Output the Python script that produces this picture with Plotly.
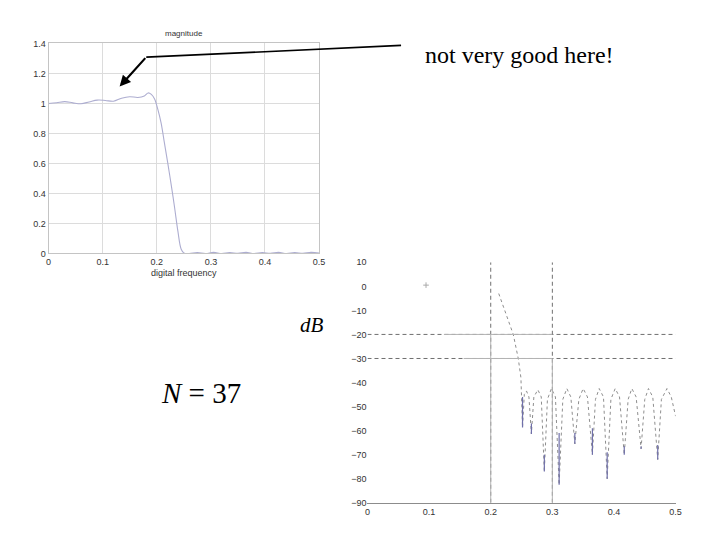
import plotly.graph_objects as go

# magnitude response (linear)
mag_x = [0.0, 0.015, 0.03, 0.045, 0.06, 0.075, 0.09, 0.105, 0.12, 0.135, 0.15, 0.165,
         0.177, 0.184, 0.19, 0.196, 0.202, 0.208, 0.214, 0.22, 0.227, 0.233, 0.239,
         0.245, 0.25, 0.26, 0.275, 0.29, 0.305, 0.32, 0.335, 0.35, 0.365, 0.38, 0.395,
         0.41, 0.425, 0.44, 0.455, 0.47, 0.485, 0.5]
mag_y = [1.0, 1.005, 1.012, 1.004, 0.998, 1.01, 1.022, 1.02, 1.015, 1.035, 1.045, 1.04,
         1.05, 1.07, 1.06, 1.03, 0.96, 0.87, 0.74, 0.61, 0.45, 0.305, 0.15,
         0.03, 0.004, 0.0, 0.006, 0.0, 0.007, 0.0, 0.006, 0.001, 0.007, 0.0, 0.006,
         0.001, 0.007, 0.0, 0.006, 0.001, 0.007, 0.003]

# dB response
db_x = [0.213, 0.220, 0.228, 0.2366, 0.2447, 0.249, 0.2516, 0.2545, 0.258, 0.262, 0.266,
        0.270, 0.2765, 0.282, 0.287, 0.292, 0.2985, 0.305, 0.311, 0.317, 0.3235, 0.330,
        0.3365, 0.343, 0.350, 0.357, 0.365, 0.370, 0.376, 0.383, 0.389, 0.395, 0.402,
        0.409, 0.4167, 0.423, 0.429, 0.436, 0.444, 0.450, 0.456, 0.463, 0.471, 0.477,
        0.486, 0.493, 0.500]
db_y = [-3, -8, -13.5, -20, -30, -38, -58.7, -45, -43.5, -46, -61.4,
        -46, -43, -46, -77, -47, -42.5, -46, -82.5, -47, -42.5, -46,
        -65.5, -47, -42.5, -46, -70, -47, -42.5, -46, -80, -47, -42.5,
        -46, -70, -47, -42.5, -46, -67.5, -47, -42.5, -46, -72, -47,
        -42.5, -46, -54]

# solid segments at the stopband nulls
null_x = [0.2516, 0.266, 0.287, 0.311, 0.3365, 0.365, 0.389, 0.4167, 0.444, 0.471]
null_top = [-46, -57, -70, -61, -61, -59, -69, -66.5, -66.6, -66]
null_bot = [-58.7, -61.4, -77, -82.5, -65.5, -70, -80, -70, -67.5, -72]

x_ticks = [0, 0.1, 0.2, 0.3, 0.4, 0.5]
mag_ticks = [0, 0.2, 0.4, 0.6, 0.8, 1, 1.2, 1.4]
db_ticks = [10, 0, -10, -20, -30, -40, -50, -60, -70, -80, -90]

W, H = 720, 540
OFF = 8  # page body margin


def px(x):
    return (x - OFF) / W


def py(y):
    return 1 - (y - OFF) / H


fig = go.Figure()

fig.add_trace(go.Scatter(x=mag_x, y=mag_y, mode="lines", line=dict(color="#adadd0", width=1.1),
                         line_shape="spline", xaxis="x", yaxis="y", showlegend=False))

fig.add_trace(go.Scatter(x=db_x, y=db_y, mode="lines", line=dict(color="#8e8e8e", width=1, dash="dot"),
                         xaxis="x2", yaxis="y2", showlegend=False))

seg_x, seg_y = [], []
for xx, t, b in zip(null_x, null_top, null_bot):
    seg_x += [xx, xx, None]
    seg_y += [t, b, None]
fig.add_trace(go.Scatter(x=seg_x, y=seg_y, mode="lines", line=dict(color="#7070aa", width=1.2),
                         xaxis="x2", yaxis="y2", showlegend=False))

# stray mark near the top left of the dB panel
fig.add_trace(go.Scatter(x=[0.095], y=[0.5], mode="markers",
                         marker=dict(symbol="cross-thin", size=4, line=dict(color="#aaaaaa", width=1)),
                         xaxis="x2", yaxis="y2", showlegend=False))

tick_font = dict(family="Arial", size=9, color="#333333")
xt_text = ["0", "0.1", "0.2", "0.3", "0.4", "0.5"]

fig.update_layout(
    width=W, height=H,
    margin=dict(l=0, r=0, t=0, b=0),
    paper_bgcolor="white", plot_bgcolor="white",
    xaxis=dict(domain=[px(46), px(320)], range=[0, 0.5], tickvals=x_ticks, ticktext=xt_text,
               showgrid=True, gridcolor="#dcdcdc", zeroline=False, showline=True, mirror=True,
               linecolor="#c4c4c4", linewidth=1, tickfont=tick_font, ticks="", anchor="y"),
    yaxis=dict(domain=[py(253), py(39)], range=[0, 1.4], tickvals=mag_ticks,
               ticktext=["0", "0.2", "0.4", "0.6", "0.8", "1", "1.2", "1.4"],
               showgrid=True, gridcolor="#dcdcdc", zeroline=False, showline=True, mirror=True,
               linecolor="#c4c4c4", linewidth=1, tickfont=tick_font, ticks="", anchor="x"),
    xaxis2=dict(domain=[px(369), px(681)], range=[0, 0.5], tickvals=x_ticks, ticktext=xt_text,
                showgrid=False, zeroline=False, showline=True, linecolor="#8c8c8c", linewidth=1,
                tickfont=tick_font, ticks="", anchor="y2"),
    yaxis2=dict(domain=[py(507), py(262)], range=[-90, 10], tickvals=db_ticks,
                showgrid=False, zeroline=False, showline=False, tickfont=tick_font, ticks="", anchor="x2"),
)

# reference lines on the dB panel
for yv in [-20, -30]:
    fig.add_shape(type="line", xref="x2", yref="y2", x0=0, x1=0.5, y0=yv, y1=yv,
                  line=dict(color="#707070", width=1, dash="4px,3px"))
for xv in [0.2, 0.3]:
    fig.add_shape(type="line", xref="x2", yref="y2", x0=xv, x1=xv, y0=-90, y1=10,
                  line=dict(color="#707070", width=1, dash="4px,3px"))
fig.add_shape(type="line", xref="x2", yref="y2", x0=0.124, x1=0.3, y0=-20, y1=-20,
              line=dict(color="#b4b4b4", width=1))
fig.add_shape(type="line", xref="x2", yref="y2", x0=0.156, x1=0.3, y0=-30, y1=-30,
              line=dict(color="#b4b4b4", width=1))
fig.add_shape(type="line", xref="x2", yref="y2", x0=0.2, x1=0.2, y0=-20, y1=-90,
              line=dict(color="#b4b4b4", width=1))
fig.add_shape(type="line", xref="x2", yref="y2", x0=0.3, x1=0.3, y0=-30, y1=-90,
              line=dict(color="#b4b4b4", width=1))

# callout line and arrow
fig.add_shape(type="line", xref="paper", yref="paper", x0=px(403), y0=py(41), x1=px(145), y1=py(53),
              line=dict(color="black", width=1.6))
fig.add_annotation(xref="paper", yref="paper", x=px(118), y=py(83), ax=27, ay=-30, text="",
                   showarrow=True, arrowhead=2, arrowsize=1, arrowwidth=2.2, arrowcolor="black")

labels = [
    ("magnitude", 183, 29, dict(family="Arial", size=8, color="#333333")),
    ("digital frequency", 183, 273, dict(family="Arial", size=9, color="#333333")),
    ("not very good here!", 523, 51, dict(family="Liberation Serif", size=24, color="black")),
    ("<i>dB</i>", 313, 326, dict(family="Liberation Serif", size=21, color="black")),
    ("<i>N</i> = 37", 200, 395, dict(family="Liberation Serif", size=29, color="black")),
]
for txt, lx, ly, f in labels:
    fig.add_annotation(xref="paper", yref="paper", x=px(lx), y=py(ly), text=txt, showarrow=False,
                       xanchor="center", yanchor="middle", font=f)

fig.write_html("out.html")
